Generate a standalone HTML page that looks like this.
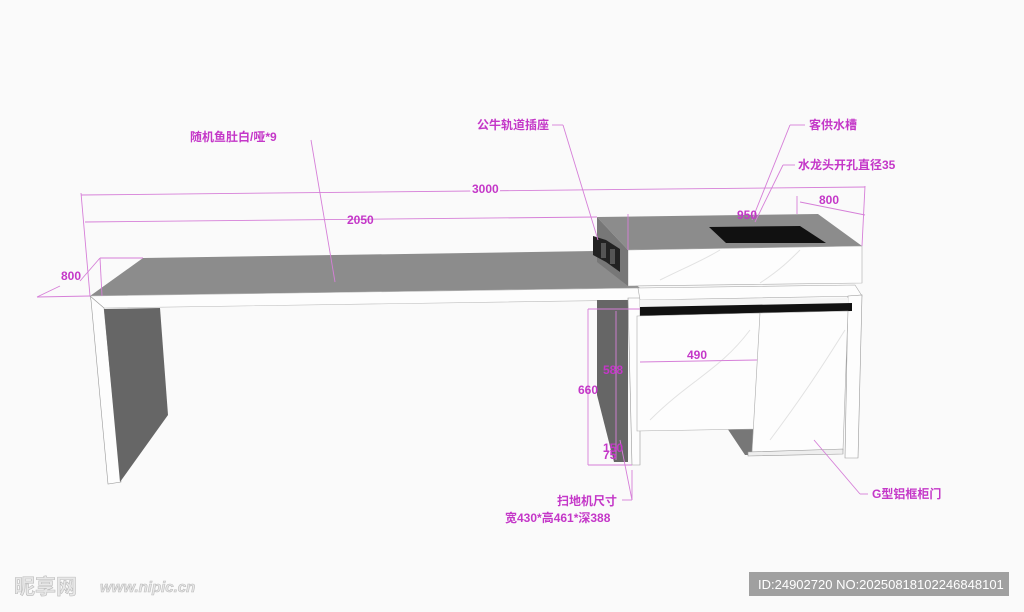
<!DOCTYPE html>
<html><head><meta charset="utf-8"><style>
html,body{margin:0;padding:0;background:#fafafa;}
svg{display:block}
text{font-family:"Liberation Sans","Noto Sans CJK SC",sans-serif;font-weight:bold;fill:#c437c8;font-size:12px}
</style></head><body>
<svg width="1024" height="612" viewBox="0 0 1024 612" xmlns="http://www.w3.org/2000/svg">
<rect width="1024" height="612" fill="#fafafa"/>
<polygon points="90,296 143,258 595,251 640,288" fill="#8c8c8c"/>
<polygon points="90,296 640,288 640,300 104,308" fill="#fdfdfd" stroke="#bbb" stroke-width="0.6"/>
<polygon points="90,296 104,308 121,482 108,484 91,300" fill="#fdfdfd" stroke="#999" stroke-width="0.6"/>
<polygon points="104,309 160,308 168,415 120,482" fill="#666"/>
<polygon points="597,300 628,300 628,462 614,462 597,395" fill="#666"/>
<polygon points="628,298 640,298 640,465 632,465" fill="#fdfdfd" stroke="#999" stroke-width="0.6"/>
<polygon points="638,288 855,285 862,296 640,300" fill="#fdfdfd" stroke="#aaa" stroke-width="0.6"/>
<polygon points="848,296 862,295 858,458 845,458" fill="#fdfdfd" stroke="#999" stroke-width="0.6"/>
<polygon points="640,300 848,298 848,310 640,316" fill="#f4f4f4"/>
<polygon points="640,307 852,303 852,311 640,317" fill="#111"/>
<polygon points="727,428 760,427 760,455 745,455" fill="#777"/>
<polygon points="637,316 760,313 757,429 637,431" fill="#fdfdfd" stroke="#aaa" stroke-width="0.6"/>
<polygon points="760,313 848,311 843,450 752,452" fill="#fdfdfd" stroke="#aaa" stroke-width="0.6"/>
<polygon points="748,452 843,449 843,454 748,456" fill="#eee" stroke="#999" stroke-width="0.6"/>
<polygon points="597,217 818,214 862,246 628,250" fill="#8c8c8c"/>
<polygon points="628,250 862,246 862,283 628,286" fill="#fdfdfd" stroke="#aaa" stroke-width="0.6"/>
<polygon points="597,217 628,250 628,286 597,262" fill="#777"/>
<polygon points="709,227 800,226 826,243 726,243" fill="#111"/>
<polygon points="593,236 606,240 620,249 620,272 606,262 593,255" fill="#222"/>
<rect x="601" y="243" width="5" height="15" fill="#555"/>
<rect x="610" y="249" width="5" height="15" fill="#555"/>
<path d="M660,280 C690,265 700,262 720,250 M760,283 C780,270 790,260 800,250 M650,420 C690,380 720,370 750,330 M770,440 C800,400 820,370 845,330" stroke="#e2e2e2" fill="none"/>
<g stroke="#d67fd8" stroke-width="0.9" fill="none">
<line x1="81" y1="195" x2="865" y2="187"/>
<line x1="81" y1="193" x2="90" y2="296"/>
<line x1="85" y1="222" x2="597" y2="217"/>
<line x1="865" y1="186" x2="862" y2="246"/>
<line x1="37" y1="297" x2="90" y2="296"/>
<line x1="37" y1="297" x2="60" y2="286"/>
<line x1="80" y1="281" x2="100" y2="258"/>
<line x1="100" y1="258" x2="143" y2="258"/>
<line x1="100" y1="258" x2="102" y2="296"/>
<line x1="800" y1="202" x2="865" y2="215"/>
<line x1="797" y1="196" x2="797" y2="214"/>
<line x1="628" y1="214" x2="628" y2="250"/>
<line x1="640" y1="362" x2="757" y2="360"/>
<line x1="588" y1="309" x2="588" y2="465"/>
<line x1="588" y1="309" x2="640" y2="309"/>
<line x1="588" y1="465" x2="632" y2="465"/>
<line x1="616" y1="311" x2="616" y2="460"/>
<line x1="311" y1="140" x2="335" y2="282"/>
<line x1="552" y1="125" x2="563" y2="125"/>
<line x1="563" y1="125" x2="598" y2="240"/>
<line x1="790" y1="125" x2="805" y2="125"/>
<line x1="790" y1="125" x2="752" y2="220"/>
<line x1="783" y1="165" x2="795" y2="165"/>
<line x1="783" y1="165" x2="755" y2="222"/>
<line x1="620" y1="440" x2="632" y2="500"/>
<line x1="632" y1="470" x2="632" y2="500"/>
<line x1="622" y1="500" x2="632" y2="500"/>
<line x1="814" y1="440" x2="860" y2="494"/>
<line x1="860" y1="494" x2="868" y2="494"/>
</g>
<text x="190" y="141">随机鱼肚白/哑*9</text>
<text x="477" y="129">公牛轨道插座</text>
<text x="809" y="129">客供水槽</text>
<text x="798" y="169">水龙头开孔直径35</text>
<text x="472" y="193" fill="#fafafa" stroke="#fafafa" stroke-width="4">3000</text>
<text x="472" y="193">3000</text>
<text x="347" y="224">2050</text>
<text x="737" y="219">950</text>
<text x="819" y="204">800</text>
<text x="61" y="280">800</text>
<text x="687" y="359">490</text>
<text x="603" y="374">588</text>
<text x="578" y="394">660</text>
<text x="603" y="452">150</text>
<text x="603" y="459">75</text>
<text x="557" y="505">扫地机尺寸</text>
<text x="505" y="522">宽430*高461*深388</text>
<text x="872" y="498">G型铝框柜门</text>
<rect x="749" y="572" width="260" height="24" fill="#a0a0a0"/>
<text x="758" y="589" style="fill:#fff;font-weight:normal;font-size:13px">ID:24902720 NO:20250818102246848101</text>
<text x="14" y="594" style="fill:#e8e8e8;stroke:#bbb;stroke-width:0.6;font-size:21px">昵享网</text>
<text x="100" y="592" style="fill:#e8e8e8;stroke:#bbb;stroke-width:0.6;font-size:15px;font-style:italic">www.nipic.cn</text>
</svg>
</body></html>
